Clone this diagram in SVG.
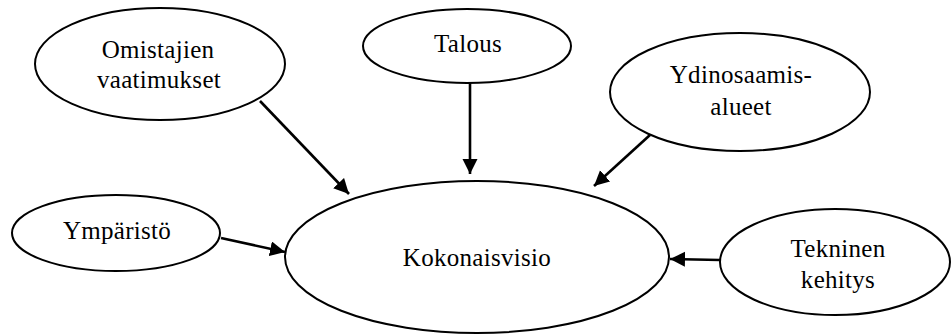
<svg xmlns="http://www.w3.org/2000/svg" width="951" height="336" viewBox="0 0 951 336">
  <style>
    .node ellipse { fill: #ffffff; stroke: #000000; stroke-width: 2; }
    .node text { font-family: "Liberation Serif", Tinos, "Nimbus Roman", "Nimbus Roman No9 L", FreeSerif, "Noto Serif", "DejaVu Serif", Georgia, serif; font-size: 25px; fill: #000000; text-anchor: middle; letter-spacing: 0.3px; }
    .edge { stroke: #000000; stroke-width: 2.6; fill: none; marker-end: url(#arrow); }
  </style>
  <defs>
    <marker id="arrow" markerUnits="userSpaceOnUse" markerWidth="16" markerHeight="16" refX="15" refY="7.5" orient="auto">
      <path d="M0,0 L15,7.5 L0,15 Z" fill="#000000"/>
    </marker>
  </defs>
  <rect width="951" height="336" fill="#ffffff"/>

  <!-- connectors -->
  <g id="connectors">
    <line class="edge" x1="260" y1="101" x2="349" y2="194"/>
    <line class="edge" x1="470" y1="83" x2="470" y2="174"/>
    <line class="edge" x1="650" y1="135" x2="594" y2="186"/>
    <line class="edge" x1="221" y1="238" x2="285" y2="252"/>
    <line class="edge" x1="720" y1="260" x2="670" y2="259"/>
  </g>

  <g id="omistajien" class="node">
    <ellipse cx="160" cy="64" rx="125" ry="56"/>
    <text x="158" y="58">Omistajien</text>
    <text x="159" y="88">vaatimukset</text>
  </g>

  <g id="talous" class="node">
    <ellipse cx="467" cy="46" rx="104" ry="37"/>
    <text x="468" y="52">Talous</text>
  </g>

  <g id="ydinosaamisalueet" class="node">
    <ellipse cx="740" cy="92" rx="130" ry="59"/>
    <text x="741" y="83">Ydinosaamis-</text>
    <text x="741" y="115">alueet</text>
  </g>

  <g id="ymparisto" class="node">
    <ellipse cx="116" cy="233" rx="104" ry="38"/>
    <text x="117" y="239">Ympäristö</text>
  </g>

  <g id="kokonaisvisio" class="node">
    <ellipse cx="477" cy="257" rx="192" ry="76"/>
    <text x="477" y="266">Kokonaisvisio</text>
  </g>

  <g id="tekninen" class="node">
    <ellipse cx="835" cy="262" rx="115" ry="53"/>
    <text x="838" y="257">Tekninen</text>
    <text x="838" y="288">kehitys</text>
  </g>
</svg>
